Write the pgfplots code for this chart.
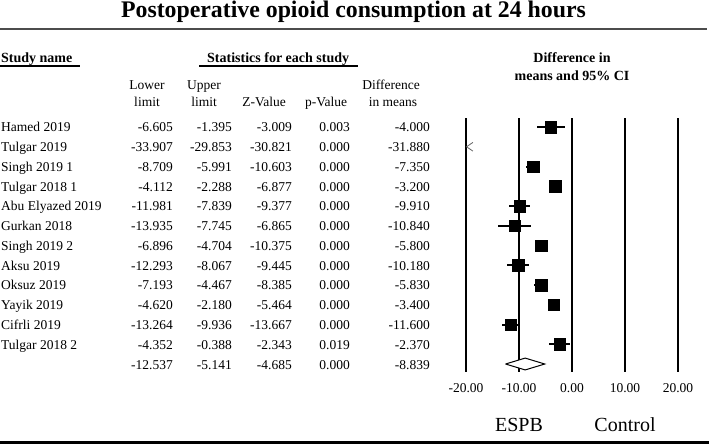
\documentclass[border=0pt]{standalone}
\usepackage{fontspec}
\setmainfont{Liberation Serif}
\usepackage{pgfplots}
\usepackage{pgfplotstable}
\pgfplotsset{compat=1.18}

\newcommand\tf{\fontsize{13.5bp}{16bp}\selectfont}
\newcommand\hf{\fontsize{14bp}{16bp}\selectfont\bfseries}

% row index, difference in means, lower and upper limit (Tulgar 2019 is off scale)
\pgfplotstableread{
row d lo hi
0 -4.000 -6.605 -1.395
2 -7.350 -8.709 -5.991
3 -3.200 -4.112 -2.288
4 -9.910 -11.981 -7.839
5 -10.840 -13.935 -7.745
6 -5.800 -6.896 -4.704
7 -10.180 -12.293 -8.067
8 -5.830 -7.193 -4.467
9 -3.400 -4.620 -2.180
10 -11.600 -13.264 -9.936
11 -2.370 -4.352 -0.388
}\studies

\begin{document}
\begin{tikzpicture}
\begin{scope}[x=1bp,y=-1bp]
\path[use as bounding box] (0,0) rectangle (709,444);
\fill[white] (0,0) rectangle (709,444);
\node[anchor=base, inner sep=0, font=\fontsize{23.8bp}{26bp}\selectfont\bfseries] at (353.5,18) {Postoperative opioid consumption at 24 hours};
\draw[line width=2bp, black!70] (0,29) -- (707,29);

% column headers
\node[anchor=base west, inner sep=0, font=\hf] at (1,62.5) {Study name};
\draw[line width=1.3bp] (0,66) -- (80,66);
\node[anchor=base west, inner sep=0, font=\hf] at (207,62.5) {Statistics for each study};
\draw[line width=1.3bp] (199,66) -- (358,66);
\node[anchor=base, inner sep=0, font=\hf] at (572,63) {Difference in};
\node[anchor=base, inner sep=0, font=\hf] at (572,81) {means and 95\% CI};
\node[anchor=base, inner sep=0, font=\tf] at (147,90) {Lower};
\node[anchor=base, inner sep=0, font=\tf] at (147,107) {limit};
\node[anchor=base, inner sep=0, font=\tf] at (204,90) {Upper};
\node[anchor=base, inner sep=0, font=\tf] at (204,107) {limit};
\node[anchor=base, inner sep=0, font=\tf] at (264,107) {Z-Value};
\node[anchor=base, inner sep=0, font=\tf] at (326,107) {p-Value};
\node[anchor=base, inner sep=0, font=\tf] at (391,90) {Difference};
\node[anchor=base, inner sep=0, font=\tf] at (393,107) {in means};

% table body
\foreach \nm/\lo/\hi/\z/\p/\d [count=\i from 0] in {
  Hamed 2019/-6.605/-1.395/-3.009/0.003/-4.000,
  Tulgar 2019/-33.907/-29.853/-30.821/0.000/-31.880,
  Singh 2019 1/-8.709/-5.991/-10.603/0.000/-7.350,
  Tulgar 2018 1/-4.112/-2.288/-6.877/0.000/-3.200,
  Abu Elyazed 2019/-11.981/-7.839/-9.377/0.000/-9.910,
  Gurkan 2018/-13.935/-7.745/-6.865/0.000/-10.840,
  Singh 2019 2/-6.896/-4.704/-10.375/0.000/-5.800,
  Aksu 2019/-12.293/-8.067/-9.445/0.000/-10.180,
  Oksuz 2019/-7.193/-4.467/-8.385/0.000/-5.830,
  Yayik 2019/-4.620/-2.180/-5.464/0.000/-3.400,
  Cifrli 2019/-13.264/-9.936/-13.667/0.000/-11.600,
  Tulgar 2018 2/-4.352/-0.388/-2.343/0.019/-2.370,
  {}/-12.537/-5.141/-4.685/0.000/-8.839}
{
  \pgfmathsetmacro\yb{132+19.75*\i}
  \node[anchor=base west, inner sep=0, font=\tf] at (1,\yb) {\nm};
  \node[anchor=base east, inner sep=0, font=\tf] at (173,\yb) {\lo};
  \node[anchor=base east, inner sep=0, font=\tf] at (232,\yb) {\hi};
  \node[anchor=base east, inner sep=0, font=\tf] at (292,\yb) {\z};
  \node[anchor=base east, inner sep=0, font=\tf] at (350,\yb) {\p};
  \node[anchor=base east, inner sep=0, font=\tf] at (430,\yb) {\d};
}

\node[anchor=base, inner sep=0, font=\fontsize{20bp}{24bp}\selectfont] at (519,431) {ESPB};
\node[anchor=base, inner sep=0, font=\fontsize{20bp}{24bp}\selectfont] at (625,431) {Control};
\draw[line width=3bp] (0,442) -- (709,442);
\end{scope}

\begin{axis}[
  at={(466bp,-372bp)}, anchor=south west,
  scale only axis, width=212bp, height=254bp,
  xmin=-20, xmax=20, ymin=-0.456, ymax=12.405,
  y dir=reverse, clip=false,
  axis line style={draw=none}, tick style={draw=none},
  ytick=\empty,
  xtick={-20,-10,0,10,20},
  xticklabels={-20.00,-10.00,0.00,10.00,20.00},
  xticklabel style={font=\tf, anchor=base, inner sep=0, yshift=-20bp},
]
\pgfplotsinvokeforeach{-20,-10,0,10,20}{
  \addplot[black, line width=2.3bp] coordinates {(#1,-0.456) (#1,12.405)};
}
\addplot[only marks, mark=square*, mark size=5.7bp, black,
  error bars/.cd, x dir=both, x explicit,
  error bar style={line width=2bp, black}, error mark=none]
  table[x=d, y=row,
    x error plus expr=\thisrow{hi}-\thisrow{d},
    x error minus expr=\thisrow{d}-\thisrow{lo}] {\studies};
% off-scale study (Tulgar 2019)
\addplot[black!60, line width=0.8bp] coordinates {(-18.7,0.78) (-19.9,1) (-18.7,1.22)};
% pooled estimate
\addplot[draw=black, fill=white, line width=1bp] coordinates {(-12.537,12) (-8.839,11.7) (-5.141,12) (-8.839,12.3) (-12.537,12)};
\end{axis}
\end{tikzpicture}
\end{document}
